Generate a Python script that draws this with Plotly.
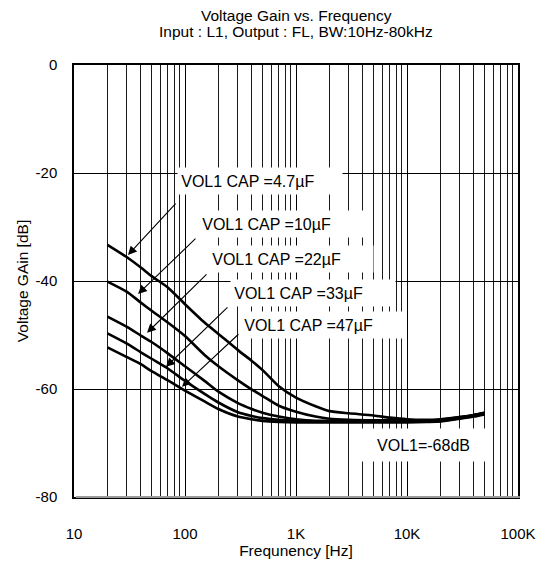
import plotly.graph_objects as go

# ---------------- data ----------------
freq_hz = [20, 30, 40, 50, 70, 100, 150, 200, 300, 400, 500, 700, 1000, 1500,
           2000, 3000, 5000, 7000, 10000, 15000, 20000, 30000, 40000, 50000]

gain_4p7uF = [-33.3, -35.6, -37.5, -39.1, -41.2, -44.3, -47.7, -49.8, -52.8, -54.8,
              -56.5, -59.5, -61.6, -63.2, -64.1, -64.5, -64.9, -65.3, -65.6, -65.7,
              -65.6, -65.2, -64.8, -64.4]
gain_10uF = [-40.1, -42.0, -44.0, -45.5, -47.7, -50.2, -53.7, -55.8, -58.4, -60.1,
             -61.3, -63.1, -64.2, -65.1, -65.5, -65.7, -65.8, -65.8, -65.8, -65.8,
             -65.7, -65.2, -64.8, -64.4]
gain_22uF = [-46.6, -48.5, -50.1, -51.3, -53.4, -55.8, -58.5, -60.5, -62.6, -63.7,
             -64.4, -65.1, -65.6, -65.9, -65.9, -65.9, -65.9, -65.9, -65.9, -65.9,
             -65.8, -65.3, -64.9, -64.5]
gain_33uF = [-49.7, -51.6, -53.2, -54.4, -56.2, -58.5, -60.9, -62.5, -64.3, -65.0,
             -65.4, -65.7, -65.9, -66.0, -66.0, -66.0, -66.0, -66.0, -66.0, -66.0,
             -65.9, -65.4, -65.0, -64.6]
gain_47uF = [-52.3, -54.1, -55.4, -56.7, -58.4, -60.3, -62.3, -63.7, -65.1, -65.6,
             -65.9, -66.1, -66.2, -66.2, -66.2, -66.2, -66.2, -66.2, -66.2, -66.1,
             -66.0, -65.5, -65.1, -64.7]

series_names = ["VOL1 CAP =4.7µF", "VOL1 CAP =10µF", "VOL1 CAP =22µF",
                "VOL1 CAP =33µF", "VOL1 CAP =47µF"]
series_values = [gain_4p7uF, gain_10uF, gain_22uF, gain_33uF, gain_47uF]

x_tick_vals = [10, 100, 1000, 10000, 100000]
x_tick_text = ["10", "100", "1K", "10K", "100K"]
y_tick_vals = [0, -20, -40, -60, -80]
y_tick_text = ["0", "-20", "-40", "-60", "-80"]

decades = [10, 100, 1000, 10000]
digits = [2, 3, 4, 5, 6, 7, 8, 9]
minor_vals = [d * m for d in decades for m in digits]

title_lines = ["Voltage Gain vs. Frequency", "Input : L1, Output : FL, BW:10Hz-80kHz"]

# label boxes: (log10 x of box left, dB of box centre)
label_pos = [(1.928, -21.4), (2.117, -29.4), (2.207, -36.0), (2.405, -42.2), (2.495, -48.2)]
# arrows: (tail log10 x, tail dB, head log10 x, head dB)
arrow_pos = [(1.928, -25.4, 1.486, -35.2),
             (2.108, -31.9, 1.577, -42.4),
             (2.207, -38.5, 1.658, -49.6),
             (2.396, -44.6, 1.829, -55.9),
             (2.495, -49.6, 1.973, -59.6)]

FONT = "Liberation Sans, Arial, sans-serif"

fig = go.Figure()
for name, vals in zip(series_names, series_values):
    fig.add_trace(go.Scatter(x=freq_hz, y=vals, mode="lines", name=name,
                             line=dict(color="black", width=2.6, shape="spline", smoothing=0.6),
                             showlegend=False, hoverinfo="x+y+name"))

annotations = []
for i, line in enumerate(title_lines):
    annotations.append(dict(x=0.5, y=[1.1157, 1.0764][i], xref="paper", yref="paper",
                            text=line, showarrow=False, xanchor="center", yanchor="middle",
                            font=dict(family=FONT, size=15.5, color="black")))
for name, (lx, ly) in zip(series_names, label_pos):
    annotations.append(dict(x=lx, y=ly, xref="x", yref="y", text="\u2009" + name, showarrow=False,
                            xanchor="left", yanchor="middle", align="left",
                            bgcolor="white", width=164, height=26, borderpad=0,
                            font=dict(family=FONT, size=16, color="black")))
for tx, ty, hx, hy in arrow_pos:
    annotations.append(dict(x=hx, y=hy, ax=tx, ay=ty, xref="x", yref="y",
                            axref="x", ayref="y", text="", showarrow=True,
                            arrowhead=2, arrowsize=1.6, arrowwidth=1.1,
                            arrowcolor="black", standoff=0, startstandoff=0))
annotations.append(dict(x=4.149, y=-70.4, xref="x", yref="y", text="VOL1=-68dB",
                        showarrow=False, xanchor="center", yanchor="middle",
                        bgcolor="white", width=123, height=32, borderpad=0,
                        font=dict(family=FONT, size=16, color="black")))

fig.update_layout(
    width=538, height=563,
    margin=dict(l=74, r=20, t=65, b=66, autoexpand=False),
    paper_bgcolor="white", plot_bgcolor="white",
    font=dict(family=FONT, size=15, color="black"),
    annotations=annotations,
    shapes=[
        dict(type="line", xref="paper", yref="paper", x0=0.004, x1=1.004, y0=0, y1=0,
             ysizemode="pixel", yanchor=0, line=dict(color="#9a9a9a", width=2)),
    ],
)

fig.update_xaxes(type="log", range=[1, 5], tickmode="array",
                 tickvals=x_tick_vals, ticktext=x_tick_text, automargin=False,
                 showgrid=True, gridcolor="black", gridwidth=1,
                 minor=dict(tickmode="array", tickvals=minor_vals, showgrid=True,
                            gridcolor="#1a1a1a", gridwidth=1, ticks=""),
                 showline=True, linecolor="black", linewidth=1.5, mirror=True,
                 ticks="", ticklabelstandoff=22,
                 tickfont=dict(family=FONT, size=15),
                 title=dict(text="Frequnency [Hz]", standoff=2,
                            font=dict(family=FONT, size=15.5)),
                 zeroline=False)
fig.update_yaxes(range=[-80, 0], tickmode="array", tickvals=y_tick_vals, ticktext=y_tick_text,
                 automargin=False,
                 showgrid=True, gridcolor="black", gridwidth=1,
                 showline=True, linecolor="black", linewidth=1.5, mirror=True,
                 ticks="", ticklabelstandoff=12,
                 tickfont=dict(family=FONT, size=15),
                 title=dict(text="Voltage GAin [dB]", standoff=3,
                            font=dict(family=FONT, size=15.5)),
                 zeroline=False)

fig.write_html("out.html", config={"displayModeBar": False},
               post_script="document.body.style.margin='0';document.body.style.overflow='hidden';")
